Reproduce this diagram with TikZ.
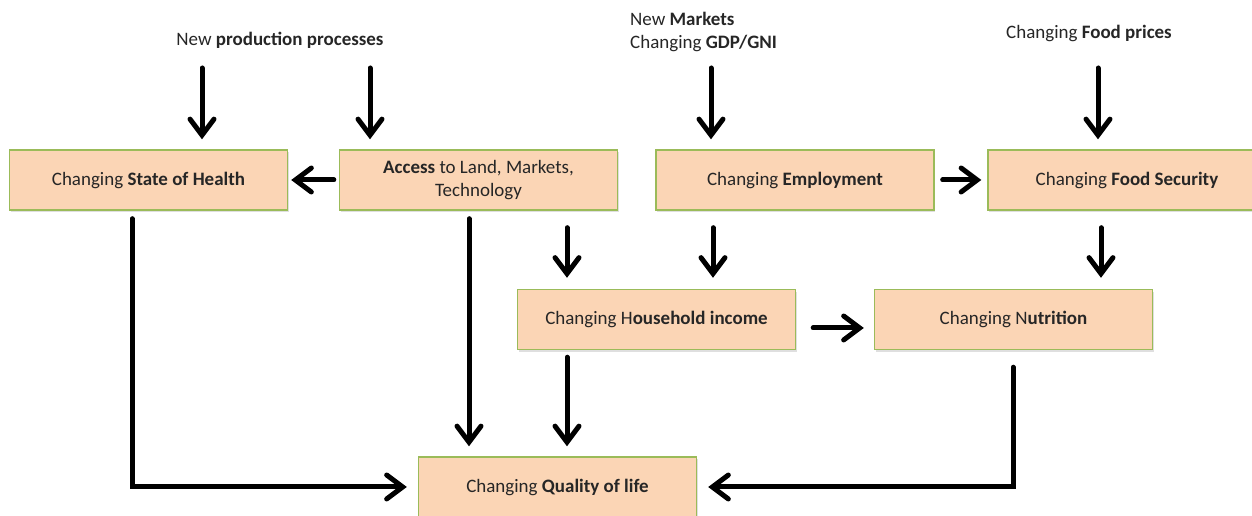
\documentclass[tikz,border=0pt]{standalone}
\usepackage{fontspec}
\setmainfont{Carlito}
\usepackage{xcolor}
\usepackage{tikz}
\usetikzlibrary{arrows.meta,shadows}

\definecolor{boxfill}{HTML}{FBD5B5}
\definecolor{boxline}{HTML}{9BBB59}
\definecolor{txt}{HTML}{262626}

\begin{document}
\begin{tikzpicture}[x=0.02cm, y=-0.02cm,
    every node/.style={text=txt, font=\fontsize{10.8}{13.6}\selectfont},
    box/.style={draw=boxline, line width=0.8pt, fill=boxfill, minimum width=5.56cm, minimum height=1.2cm,
        align=center, drop shadow={shadow xshift=0.6pt, shadow yshift=-1.2pt, opacity=0.25}},
    arr/.style={line width=0.1cm, line cap=round, -{Straight Barb[length=0.32cm, width=0.48cm, line cap=round]}}]
    \useasboundingbox (0,0) rectangle (1252,516);
    \clip (0,0) rectangle (1252,516);
    % drivers
    \node (newprod) at (280,40) {New \textbf{production processes}};
    \node (newmkt) [anchor=west, align=left] at (624,32) {New \textbf{Markets}\\Changing \textbf{GDP/GNI}};
    \node (foodprice) at (1089,33) {Changing \textbf{Food prices}};
    % boxes
    \node[box] (health) at (148.5,180) {Changing \textbf{State of Health}};
    \node[box] (access) at (478.5,180) {\textbf{Access} to Land, Markets,\\Technology};
    \node[box] (employ) at (795,180) {Changing \textbf{Employment}};
    \node[box] (foodsec) at (1127,180) {Changing \textbf{Food Security}};
    \node[box] (income) at (656.5,319.5) {Changing H\textbf{ousehold income}};
    \node[box] (nutr) at (1013.5,319.5) {Changing N\textbf{utrition}};
    \node[box] (qol) at (557.5,487) {Changing \textbf{Quality of life}};
    % arrows from the drivers
    \coordinate (ph) at (202,68);
    \coordinate (pa) at (370,68);
    \coordinate (pm) at (711,68);
    \coordinate (pf) at (1098,68);
    \draw[arr, shorten >=0.2cm] (ph) -- (ph |- health.north);
    \draw[arr, shorten >=0.2cm] (pa) -- (pa |- access.north);
    \draw[arr, shorten >=0.2cm] (pm) -- (pm |- employ.north);
    \draw[arr, shorten >=0.2cm] (pf) -- (pf |- foodsec.north);
    % first row
    \draw[arr, shorten <=0.1cm, shorten >=0.06cm] (access.west) -- (health.east);
    \draw[arr, shorten <=0.16cm, shorten >=0.12cm] (employ.east) -- (foodsec.west);
    % down to the second row
    \draw[arr, shorten <=0.34cm, shorten >=0.22cm] (access.south -| 567,0) -- (income.north -| 567,0);
    \draw[arr, shorten <=0.34cm, shorten >=0.22cm] (employ.south -| 713,0) -- (income.north -| 713,0);
    \draw[arr, shorten <=0.34cm, shorten >=0.22cm] (foodsec.south -| 1101,0) -- (nutr.north -| 1101,0);
    \draw[arr, shorten <=0.34cm, shorten >=0.2cm] (income.east |- 0,328) -- (nutr.west |- 0,328);
    % into quality of life
    \draw[arr, shorten <=0.16cm, shorten >=0.22cm] (health.south -| 132,0) |- (qol.west);
    \draw[arr, shorten <=0.16cm, shorten >=0.2cm] (access.south -| 469,0) -- (qol.north -| 469,0);
    \draw[arr, shorten <=0.14cm, shorten >=0.2cm] (income.south -| 567,0) -- (qol.north -| 567,0);
    \draw[arr, shorten <=0.34cm, shorten >=0.22cm] (nutr.south -| 1013,0) |- (qol.east);
\end{tikzpicture}
\end{document}
